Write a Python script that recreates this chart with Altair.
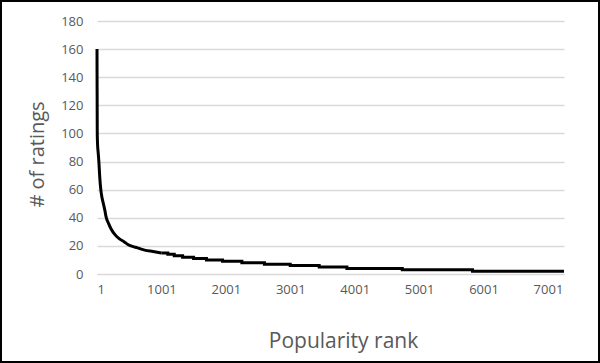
import altair as alt
import pandas as pd

# Head of the long-tail curve
head_ranks = [1, 2, 3, 5, 10, 20, 30, 45, 60, 80, 100, 120, 140, 180, 220, 280, 350, 420, 480, 600, 740, 870, 1000]
head_counts = [160, 140, 128, 100, 92, 86, 80, 68, 60, 54, 50, 46, 41, 36, 32, 28, 25, 23, 21, 19, 17, 16, 15]

# Tail: integer counts, each starting at a given rank
tail_starts = [1000, 1100, 1200, 1330, 1500, 1700, 1950, 2250, 2600, 3000, 3450, 3880, 4740, 5830, 7250]
tail_counts = [15, 14, 13, 12, 11, 10, 9, 8, 7, 6, 5, 4, 3, 2, 2]

x_ticks = [1, 1001, 2001, 3001, 4001, 5001, 6001, 7001]
y_ticks = [0, 20, 40, 60, 80, 100, 120, 140, 160, 180]

head = pd.DataFrame({"rank": head_ranks, "count": head_counts})
tail = pd.DataFrame({"rank": tail_starts, "count": tail_counts})

W, H = 467, 253
FONT = "Open Sans"
GRAY = "#595959"

xscale = alt.Scale(domain=[1, 7250], nice=False, zero=False)
yscale = alt.Scale(domain=[0, 180], nice=False)

xaxis = alt.Axis(values=x_ticks, format="d", grid=False, ticks=False, domain=True,
                 domainColor="#d9d9d9", labelColor=GRAY, labelFontSize=13, labelFont=FONT,
                 labelPadding=9, labelOverlap=False, title="Popularity rank", titleFont=FONT,
                 titleFontSize=21, titleFontWeight="normal", titleColor=GRAY, titleX=246,
                 titleY=73, titleBaseline="alphabetic", titleAlign="center")
yaxis = alt.Axis(values=y_ticks, tickCount=10, grid=True, gridColor="#d9d9d9", gridWidth=1.3,
                 ticks=False, domain=False, labelColor=GRAY, labelFontSize=13,
                 labelFont=FONT, labelPadding=14, labelOverlap=False, labelFlush=False,
                 title="# of ratings", titleFont=FONT,
                 titleFontSize=20, titleFontWeight="normal", titleColor=GRAY,
                 titleAngle=270, titleX=-60, titleY=133, titleAlign="center",
                 titleBaseline="middle")

head_line = alt.Chart(head).mark_line(color="black", strokeWidth=3, interpolate="monotone").encode(
    x=alt.X("rank:Q", scale=xscale, axis=xaxis),
    y=alt.Y("count:Q", scale=yscale, axis=yaxis),
)
tail_line = alt.Chart(tail).mark_line(color="black", strokeWidth=3, interpolate="step-after").encode(
    x=alt.X("rank:Q", scale=xscale, axis=xaxis),
    y=alt.Y("count:Q", scale=yscale, axis=yaxis),
)

frame = alt.Chart(pd.DataFrame({"a": [0]})).mark_rect(
    fill="transparent", stroke="black", strokeWidth=2
).encode(
    x=alt.value(-96), x2=alt.value(W + 35), y=alt.value(-20), y2=alt.value(H + 88)
)

chart = alt.layer(head_line, tail_line, frame).properties(
    width=W, height=H,
    autosize=alt.AutoSizeParams(type="none"),
    padding={"left": 97, "top": 21, "right": 36, "bottom": 89},
    background="white",
).configure_view(stroke=None)

chart.save("out.html", embed_options={"renderer": "svg", "actions": False})
